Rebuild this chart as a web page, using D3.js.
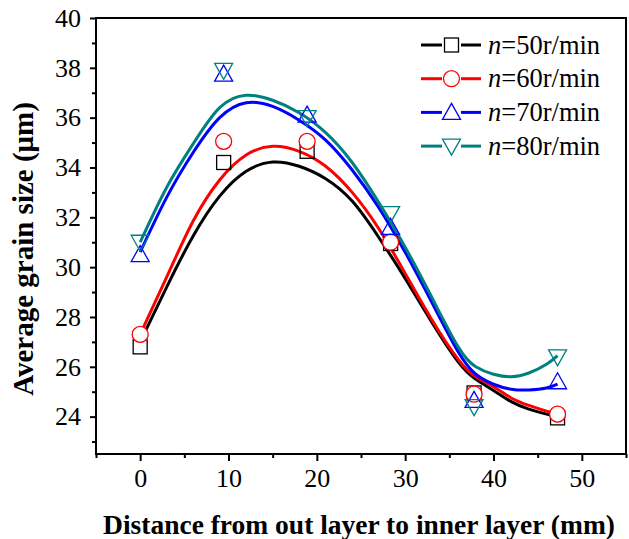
<!DOCTYPE html>
<html>
<head>
<meta charset="utf-8">
<script src="https://cdn.jsdelivr.net/npm/d3@7"></script>
<style>
  body { margin: 0; background: #fff; }
  svg text { font-family: "Liberation Serif", "Times New Roman", serif; }
</style>
</head>
<body>
<svg id="canvas"></svg>
<script>
// measured points
const pointX = [0, 9.45, 18.9, 28.35, 37.8, 47.25]
const n50 = [26.8, 34.2, 34.65, 30.95, 24.95, 23.95]
const n60 = [27.3, 35.05, 35.05, 31.0, 24.9, 24.1]
const n70 = [30.5, 37.75, 36.1, 31.6, 24.65, 25.4]
const n80 = [31.0, 37.9, 36.0, 32.15, 24.4, 26.4]

// fitted curves
const curveX = [0, 3, 6, 9, 12, 15, 18, 21, 24, 27, 30, 33, 36, 38, 40, 42, 44, 46, 47.25]
const fit50 = [27.0, 29.2, 31.25, 32.85, 33.85, 34.22, 34.05, 33.55, 32.65, 31.2, 29.55, 27.8, 26.2, 25.5, 25.05, 24.6, 24.3, 24.1, 24.0]
const fit60 = [27.3, 29.6, 31.85, 33.5, 34.5, 34.85, 34.65, 34.05, 33.0, 31.55, 29.75, 27.9, 26.3, 25.6, 25.2, 24.75, 24.45, 24.22, 24.1]
const fit70 = [30.6, 32.8, 34.6, 36.0, 36.6, 36.45, 35.9, 35.1, 33.9, 32.4, 30.6, 28.6, 26.6, 25.7, 25.3, 25.1, 25.07, 25.15, 25.3]
const fit80 = [31.0, 33.2, 34.95, 36.4, 36.9, 36.7, 36.2, 35.4, 34.2, 32.6, 30.8, 28.8, 26.8, 26.0, 25.7, 25.6, 25.75, 26.1, 26.45]

const labels = ['50', '60', '70', '80']
const colors = ['#000000', '#ff0000', '#0000ff', '#008080']
const symbols = ['square', 'circle', 'up', 'down']
const yTicks = [24, 26, 28, 30, 32, 34, 36, 38, 40]
const xTicks = [0, 10, 20, 30, 40, 50]

const series = [n50, n60, n70, n80].map((v, i) => ({
    pts: v, fit: [fit50, fit60, fit70, fit80][i],
    label: labels[i], color: colors[i], sym: symbols[i]
}))

let width = 629
let height = 539
let plotL = 96, plotR = 626, plotT = 18, plotB = 454

let svg = d3.select('#canvas')
svg.attr('width', width).attr('height', height)

let xScale = d3.scaleLinear().domain([-5, 55]).range([plotL, plotR])
let yScale = d3.scaleLinear().domain([22.5, 40]).range([plotB, plotT])

// frame
svg.append('rect')
    .attr('x', plotL).attr('y', plotT)
    .attr('width', plotR - plotL).attr('height', plotB - plotT)
    .attr('fill', 'none').attr('stroke', '#000').attr('stroke-width', 2)

// axes
let xAxis = d3.axisBottom(xScale).tickValues(xTicks).tickSize(7).tickPadding(8)
let xMinor = d3.axisBottom(xScale).tickValues(d3.range(-5, 56, 10)).tickSize(4).tickFormat('')
let yAxis = d3.axisLeft(yScale).tickValues(yTicks).tickSize(6).tickPadding(9)
let yMinor = d3.axisLeft(yScale).tickValues(d3.range(23, 40, 2)).tickSize(4).tickFormat('')

function styleAxis(g) {
    g.select('.domain').remove()
    g.selectAll('line').attr('stroke', '#000').attr('stroke-width', 2)
    g.selectAll('text').attr('fill', '#000')
        .style('font-family', '"Liberation Serif", "Times New Roman", serif')
        .style('font-size', '26px')
}

svg.append('g').attr('transform', 'translate(0,' + plotB + ')').call(xAxis).call(styleAxis)
svg.append('g').attr('transform', 'translate(0,' + plotB + ')').call(xMinor).call(styleAxis)
svg.append('g').attr('transform', 'translate(' + plotL + ',0)').call(yAxis).call(styleAxis)
svg.append('g').attr('transform', 'translate(' + plotL + ',0)').call(yMinor).call(styleAxis)

// titles
svg.append('text')
    .attr('x', 359).attr('y', 534)
    .attr('text-anchor', 'middle')
    .style('font-size', '27.5px').style('font-weight', 'bold')
    .text('Distance from out layer to inner layer (mm)')

svg.append('text')
    .attr('transform', 'translate(33,249) rotate(-90)')
    .attr('text-anchor', 'middle')
    .style('font-size', '29px').style('font-weight', 'bold')
    .text('Average grain size (μm)')

// fit curves
let line = d3.line()
    .x((d) => xScale(d[0]))
    .y((d) => yScale(d[1]))
    .curve(d3.curveNatural)

series.forEach((s) => {
    svg.append('path')
        .datum(curveX.map((x, i) => [x, s.fit[i]]))
        .attr('d', line)
        .attr('fill', 'none')
        .attr('stroke', s.color)
        .attr('stroke-width', 3)
})

// markers
function drawSymbol(g, sym, color, cx, cy) {
    if (sym === 'square') {
        g.append('rect').attr('x', cx - 7).attr('y', cy - 7).attr('width', 14).attr('height', 14)
            .attr('fill', 'none').attr('stroke', color).attr('stroke-width', 1.3)
    } else if (sym === 'circle') {
        g.append('circle').attr('cx', cx).attr('cy', cy).attr('r', 8)
            .attr('fill', '#fff').attr('stroke', color).attr('stroke-width', 1.3)
    } else if (sym === 'up') {
        g.append('path')
            .attr('d', `M${cx},${cy - 9}L${cx + 9},${cy + 7}L${cx - 9},${cy + 7}Z`)
            .attr('fill', 'none').attr('stroke', color).attr('stroke-width', 1.3)
    } else {
        g.append('path')
            .attr('d', `M${cx},${cy + 9}L${cx + 9},${cy - 7}L${cx - 9},${cy - 7}Z`)
            .attr('fill', 'none').attr('stroke', color).attr('stroke-width', 1.3)
    }
}

let marks = svg.append('g')
series.forEach((s) => {
    s.pts.forEach((v, i) => {
        drawSymbol(marks, s.sym, s.color, xScale(pointX[i]), yScale(v))
    })
})

// legend
let legend = svg.append('g')
series.forEach((s, i) => {
    let y = 45 + i * 33.7
    legend.append('line').attr('x1', 421).attr('x2', 442).attr('y1', y).attr('y2', y)
        .attr('stroke', s.color).attr('stroke-width', 3)
    legend.append('line').attr('x1', 461).attr('x2', 481).attr('y1', y).attr('y2', y)
        .attr('stroke', s.color).attr('stroke-width', 3)
    drawSymbol(legend, s.sym, s.color, 451.5, y)
    let t = legend.append('text').attr('x', 488).attr('y', y + 8.5)
        .style('font-size', '26.5px')
    t.append('tspan').style('font-style', 'italic').text('n')
    t.append('tspan').text('=' + s.label + 'r/min')
})
</script>
</body>
</html>
